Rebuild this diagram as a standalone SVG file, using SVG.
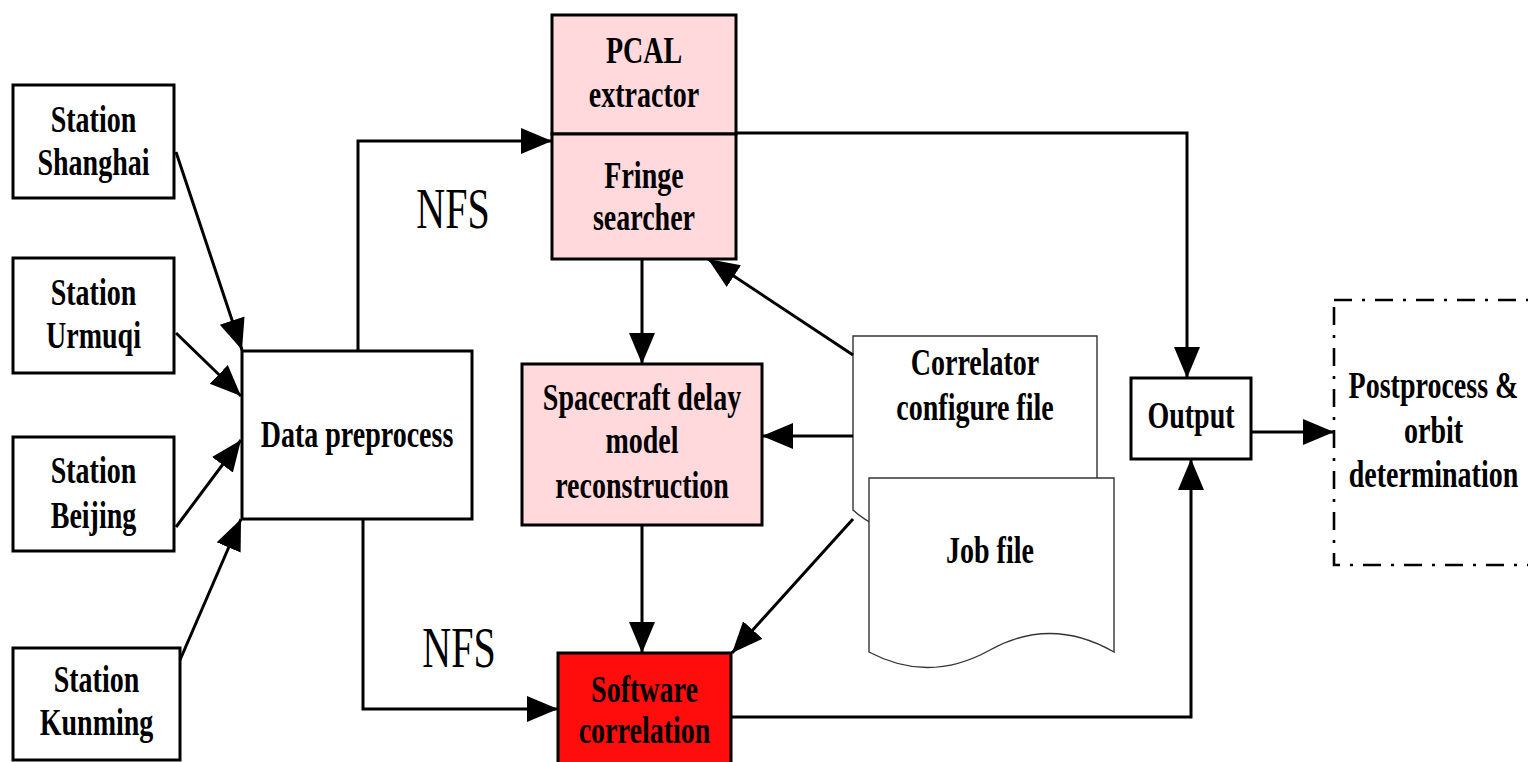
<svg xmlns="http://www.w3.org/2000/svg" width="1528" height="762" viewBox="0 0 1528 762">
  <style>
    .box { fill: #ffffff; stroke: #000000; stroke-width: 3; }
    .pink { fill: #ffd9dc; stroke: #000000; stroke-width: 3; }
    .red { fill: #ff0d0d; stroke: #000000; stroke-width: 3; }
    .doc { fill: #ffffff; stroke: #333333; stroke-width: 1.4; }
    .dashed { fill: none; stroke: #000000; stroke-width: 2.6; stroke-dasharray: 18 10 3 10; }
    .lbl { font-family: "Liberation Serif", "Times New Roman", serif; font-weight: bold; font-size: 28px; text-anchor: middle; fill: #000000; }
    .nfs { font-family: "Liberation Serif", "Times New Roman", serif; font-size: 40px; text-anchor: middle; fill: #000000; }
    .conn { fill: none; stroke: #000000; stroke-width: 3; }
  </style>
  <defs>
    <marker id="arrow" markerUnits="userSpaceOnUse" markerWidth="32" markerHeight="28" refX="31" refY="13" orient="auto">
      <path d="M0,0 L31,13 L0,26 Z" fill="#000000"/>
    </marker>
  </defs>

  <!-- stations -->
  <g id="station-shanghai">
    <rect class="box" x="13" y="85" width="161" height="113"/>
    <text class="lbl" transform="translate(93.5,132) scale(1,1.37)">Station</text>
    <text class="lbl" transform="translate(93.5,175) scale(1,1.37)">Shanghai</text>
  </g>
  <g id="station-urmuqi">
    <rect class="box" x="13" y="258" width="161" height="115"/>
    <text class="lbl" transform="translate(93.5,305) scale(1,1.37)">Station</text>
    <text class="lbl" transform="translate(93.5,348) scale(1,1.37)">Urmuqi</text>
  </g>
  <g id="station-beijing">
    <rect class="box" x="13" y="437" width="161" height="114"/>
    <text class="lbl" transform="translate(93.5,483) scale(1,1.37)">Station</text>
    <text class="lbl" transform="translate(93.5,528) scale(1,1.37)">Beijing</text>
  </g>
  <g id="station-kunming">
    <rect class="box" x="13" y="648" width="167" height="112"/>
    <text class="lbl" transform="translate(96.5,692) scale(1,1.37)">Station</text>
    <text class="lbl" transform="translate(96.5,735) scale(1,1.37)">Kunming</text>
  </g>

  <!-- processing blocks -->
  <g id="data-preprocess">
    <rect class="box" x="242" y="351" width="230" height="168"/>
    <text class="lbl" transform="translate(357,447) scale(1,1.37)">Data preprocess</text>
  </g>
  <g id="pcal-extractor">
    <rect class="pink" x="552" y="15" width="184" height="119"/>
    <text class="lbl" transform="translate(644,63) scale(1,1.37)">PCAL</text>
    <text class="lbl" transform="translate(644,107) scale(1,1.37)">extractor</text>
  </g>
  <g id="fringe-searcher">
    <rect class="pink" x="552" y="134" width="184" height="125"/>
    <text class="lbl" transform="translate(644,188) scale(1,1.37)">Fringe</text>
    <text class="lbl" transform="translate(644,230) scale(1,1.37)">searcher</text>
  </g>
  <g id="delay-model">
    <rect class="pink" x="522" y="364" width="240" height="161"/>
    <text class="lbl" transform="translate(642,410) scale(1,1.37)">Spacecraft delay</text>
    <text class="lbl" transform="translate(642,453) scale(1,1.37)">model</text>
    <text class="lbl" transform="translate(642,498) scale(1,1.37)">reconstruction</text>
  </g>
  <g id="software-correlation">
    <rect class="red" x="558" y="653" width="173" height="120"/>
    <text class="lbl" transform="translate(644.5,702) scale(1,1.37)">Software</text>
    <text class="lbl" transform="translate(644.5,743) scale(1,1.37)">correlation</text>
  </g>

  <!-- stacked documents: the job file sits over the configure file -->
  <g id="config-file">
    <path class="doc" d="M853,510 C880,535 930,545 975,525 S1060,500 1097,505 V336 H853 Z"/>
    <text class="lbl" transform="translate(975,375) scale(1,1.37)">Correlator</text>
    <text class="lbl" transform="translate(975,420) scale(1,1.37)">configure file</text>
  </g>
  <g id="job-file">
    <path class="doc" d="M869,478 H1114 V652 Q1051,616 990,650 Q929,684 869,652 Z"/>
    <text class="lbl" transform="translate(990,563) scale(1,1.37)">Job file</text>
  </g>

  <g id="output">
    <rect class="box" x="1131" y="378" width="120" height="81"/>
    <text class="lbl" transform="translate(1191,428) scale(1,1.37)">Output</text>
  </g>
  <g id="postprocess">
    <rect class="dashed" x="1334" y="300" width="260" height="265"/>
    <text class="lbl" transform="translate(1433.5,398) scale(1,1.37)">Postprocess &amp;</text>
    <text class="lbl" transform="translate(1433.5,443) scale(1,1.37)">orbit</text>
    <text class="lbl" transform="translate(1433.5,487) scale(1,1.37)">determination</text>
  </g>

  <!-- link labels -->
  <g id="labels">
    <text class="nfs" transform="translate(453,228) scale(1,1.4)">NFS</text>
    <text class="nfs" transform="translate(459,667) scale(1,1.4)">NFS</text>
  </g>

  <!-- connectors -->
  <g id="connectors">
    <path class="conn" marker-end="url(#arrow)" d="M176,152 L242,350"/>
    <path class="conn" marker-end="url(#arrow)" d="M176,333 L241,396"/>
    <path class="conn" marker-end="url(#arrow)" d="M176,527 L241,440"/>
    <path class="conn" marker-end="url(#arrow)" d="M180,660 L241,519"/>
    <path class="conn" marker-end="url(#arrow)" d="M358,351 V141 H552"/>
    <path class="conn" marker-end="url(#arrow)" d="M363,519 V709 H558"/>
    <path class="conn" marker-end="url(#arrow)" d="M736,133 H1187 V378"/>
    <path class="conn" marker-end="url(#arrow)" d="M642,259 V364"/>
    <path class="conn" marker-end="url(#arrow)" d="M642,525 V653"/>
    <path class="conn" marker-end="url(#arrow)" d="M853,355 L708,259"/>
    <path class="conn" marker-end="url(#arrow)" d="M853,436 H762"/>
    <path class="conn" marker-end="url(#arrow)" d="M853,519 L732,653"/>
    <path class="conn" marker-end="url(#arrow)" d="M731,717 H1191 V459"/>
    <path class="conn" marker-end="url(#arrow)" d="M1251,432 H1334"/>
  </g>
</svg>
